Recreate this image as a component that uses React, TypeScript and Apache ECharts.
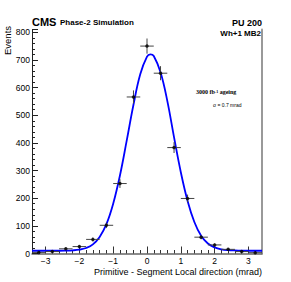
import React, { useEffect, useRef } from "react";
import * as echarts from "echarts";

// Histogram bins (centres), counts and their statistical errors
const binCenters = [-3.2, -2.8, -2.4, -2.0, -1.6, -1.2, -0.8, -0.4, 0, 0.4, 0.8, 1.2, 1.6, 2.0, 2.4, 2.8, 3.2];
const eventCounts = [4, 7, 17, 25, 51, 102, 253, 566, 750, 652, 383, 199, 59, 31, 15, 7, 3];
const countErrors = [2, 2.6, 4.1, 5, 7.1, 10.1, 15.9, 23.8, 27.4, 25.5, 19.6, 14.1, 7.7, 5.6, 3.9, 2.6, 1.7];
const binHalfWidth = 0.2;

// Fitted curve
const fitX = [-3.4, -3.0, -2.6, -2.4, -2.2, -2.0, -1.8, -1.6, -1.4, -1.2, -1.0, -0.8, -0.6, -0.4, -0.2, 0, 0.1, 0.2, 0.4, 0.6, 0.8, 1.0, 1.2, 1.4, 1.6, 1.8, 2.0, 2.2, 2.4, 2.6, 3.0, 3.4];
const fitY = [10, 10, 10, 10.5, 11.5, 14, 20, 33, 60, 106, 180, 282, 408, 538, 648, 712, 720, 714, 655, 552, 420, 294, 190, 114, 64, 36, 22, 15, 12, 11, 10, 10];

// Axis ticks
const xMajorTicks = [-3, -2, -1, 0, 1, 2, 3];
const xMinorTicks = [-3.2, -2.8, -2.6, -2.4, -2.2, -1.8, -1.6, -1.4, -1.2, -0.8, -0.6, -0.4, -0.2, 0.2, 0.4, 0.6, 0.8, 1.2, 1.4, 1.6, 1.8, 2.2, 2.4, 2.6, 2.8, 3.2];
const xRange = [-3.4, 3.4];
const yRange = [0, 810];

const SANS = "'Liberation Sans', Arial, Helvetica, sans-serif";
const SERIF = "'Liberation Serif', 'Times New Roman', serif";

export default function App() {
  const ref = useRef<HTMLDivElement>(null);

  useEffect(() => {
    document.body.style.margin = "0";
    const chart = echarts.init(ref.current!, undefined, { renderer: "svg" });

    const errData = binCenters.map((x, i) => [x, eventCounts[i], countErrors[i], binHalfWidth]);
    const pointData = binCenters.map((x, i) => [x, eventCounts[i]]);
    const fitData = fitX.map((x, i) => [x, fitY[i]]);

    const option: any = {
      animation: false,
      backgroundColor: "#fff",
      grid: { left: 32, top: 29.5, width: 230, height: 224, containLabel: false },
      xAxis: [
        {
          type: "value",
          min: xRange[0],
          max: xRange[1],
          position: "bottom",
          axisLine: { show: true, onZero: false, lineStyle: { color: "#666", width: 1.5 } },
          axisTick: { show: true, inside: true, length: 7, customValues: xMajorTicks, lineStyle: { color: "#333", width: 1 } },
          axisLabel: {
            show: true,
            customValues: xMajorTicks,
            formatter: (v: number) => String(v).replace("-", "\u2212"),
            fontSize: 8.5,
            fontFamily: SANS,
            color: "#000",
            margin: 3,
          },
          splitLine: { show: false },
        },
        {
          type: "value",
          min: xRange[0],
          max: xRange[1],
          position: "top",
          axisLine: { show: false, onZero: true },
          axisTick: { show: true, inside: false, length: 3.5, customValues: xMinorTicks, lineStyle: { color: "#333", width: 1 } },
          axisLabel: { show: false },
          splitLine: { show: false },
        },
      ],
      yAxis: [
        {
          type: "value",
          min: yRange[0],
          max: yRange[1],
          interval: 100,
          position: "left",
          axisLine: { show: true, onZero: false, lineStyle: { color: "#222", width: 1 } },
          axisTick: { show: true, inside: true, length: 6, lineStyle: { color: "#222", width: 1 } },
          minorTick: { show: true, splitNumber: 5, length: 3, lineStyle: { color: "#222", width: 1 } },
          axisLabel: {
            fontSize: 8.5,
            fontFamily: SANS,
            color: "#000",
            margin: 2,
            formatter: (v: number) => (v > 800 ? "" : String(v)),
          },
          splitLine: { show: false },
        },
        {
          type: "value",
          min: yRange[0],
          max: yRange[1],
          position: "right",
          axisLine: { show: true, onZero: false, lineStyle: { color: "#999", width: 2 } },
          axisTick: { show: false },
          axisLabel: { show: false },
          splitLine: { show: false },
        },
      ],
      series: [
        {
          type: "line",
          data: fitData,
          xAxisIndex: 0,
          yAxisIndex: 0,
          smooth: 0.4,
          showSymbol: false,
          symbol: "none",
          lineStyle: { color: "#0000ff", width: 1.8 },
          z: 2,
        },
        {
          type: "custom",
          xAxisIndex: 0,
          yAxisIndex: 0,
          data: errData,
          z: 3,
          renderItem: (params: any, api: any) => {
            const x = api.value(0);
            const y = api.value(1);
            const e = api.value(2);
            const hw = api.value(3);
            const l = api.coord([x - hw, y]);
            const r = api.coord([x + hw, y]);
            const t = api.coord([x, y + e]);
            const b = api.coord([x, y - e]);
            return {
              type: "group",
              children: [
                { type: "line", shape: { x1: l[0], y1: l[1], x2: r[0], y2: r[1] }, style: { stroke: "#444", lineWidth: 1 } },
                { type: "line", shape: { x1: t[0], y1: t[1], x2: b[0], y2: b[1] }, style: { stroke: "#444", lineWidth: 1 } },
              ],
            };
          },
        },
        {
          type: "scatter",
          xAxisIndex: 0,
          yAxisIndex: 0,
          data: pointData,
          symbol: "circle",
          symbolSize: 3.5,
          itemStyle: { color: "#000" },
          z: 4,
        },
      ],
      graphic: [
        { type: "text", x: 32, y: 21.8, style: { text: "CMS", fontFamily: SANS, fontSize: 11, fontWeight: "bold", fill: "#000", verticalAlign: "middle" } },
        { type: "text", x: 60, y: 22.8, style: { text: "Phase-2 Simulation", fontFamily: SANS, fontSize: 8, fontWeight: "bold", fill: "#000", verticalAlign: "middle" } },
        { type: "text", x: 262, y: 22.5, style: { text: "PU 200", fontFamily: SANS, fontSize: 9, fontWeight: "bold", fill: "#000", align: "right", verticalAlign: "middle" } },
        { type: "text", x: 261, y: 33.8, style: { text: "Wh+1 MB2", fontFamily: SANS, fontSize: 8, fontWeight: "bold", fill: "#000", align: "right", verticalAlign: "middle" } },
        {
          type: "text",
          x: 196,
          y: 92.3,
          style: {
            text: "{a|3000 fb}{s|-1}{a| ageing}",
            verticalAlign: "middle",
            rich: {
              a: { fontFamily: SERIF, fontSize: 6, fontWeight: "bold", fill: "#000" },
              s: { fontFamily: SERIF, fontSize: 4, fontWeight: "bold", fill: "#000", verticalAlign: "top" },
            },
          },
        },
        { type: "text", x: 213, y: 105, style: { text: "\u03c3 = 0.7 mrad", fontFamily: SANS, fontSize: 5, fill: "#000", verticalAlign: "middle" } },
        { type: "text", x: 7, y: 55, rotation: Math.PI / 2, style: { text: "Events", fontFamily: SANS, fontSize: 9.5, fill: "#000", align: "left", verticalAlign: "middle" } },
        { type: "text", x: 262, y: 271.7, style: { text: "Primitive - Segment Local direction (mrad)", fontFamily: SANS, fontSize: 9, fill: "#000", align: "right", verticalAlign: "middle" } },
      ],
    };

    chart.setOption(option);
    return () => chart.dispose();
  }, []);

  return <div ref={ref} style={{ width: 291, height: 282, position: "absolute", left: 0, top: 0 }} />;
}
